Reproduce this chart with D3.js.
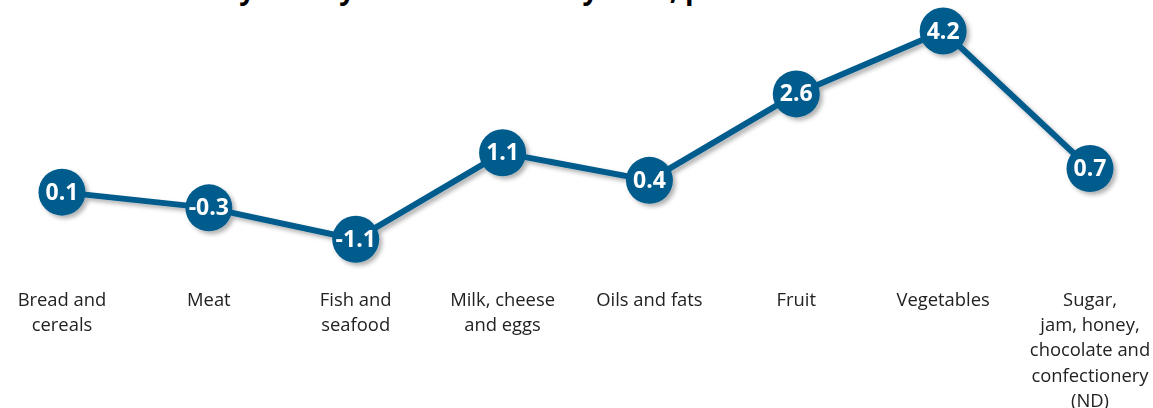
<!DOCTYPE html>
<html>
<head>
<meta charset="utf-8">
<script src="https://cdn.jsdelivr.net/npm/d3@7/dist/d3.min.js"></script>
<style>
  html, body { margin: 0; padding: 0; background: #fff; }
  svg { display: block; }
</style>
</head>
<body>
<svg id="chart" width="1153" height="408"></svg>
<script>
const title = "Monthly rise by food item in May 2024, per cent";
const categories = [
  "Bread and\ncereals",
  "Meat",
  "Fish and\nseafood",
  "Milk, cheese\nand eggs",
  "Oils and fats",
  "Fruit",
  "Vegetables",
  "Sugar,\njam, honey,\nchocolate and\nconfectionery\n(ND)"
];
const values = [0.1, -0.3, -1.1, 1.1, 0.4, 2.6, 4.2, 0.7];
const valueLabels = ["0.1", "-0.3", "-1.1", "1.1", "0.4", "2.6", "4.2", "0.7"];

const W = 1153, H = 408;
const color = "#005b8c";
const svg = d3.select("#chart");

const x = d3.scalePoint().domain(d3.range(categories.length)).range([62, 1090]);
const y = d3.scaleLinear().domain([-1.1, 4.2]).range([239.3, 31]);

const defs = svg.append("defs");
const f = defs.append("filter").attr("id", "shadow")
  .attr("x", "-30%").attr("y", "-30%").attr("width", "160%").attr("height", "160%");
f.append("feDropShadow").attr("dx", 3).attr("dy", 3).attr("stdDeviation", 2.2)
  .attr("flood-color", "#000").attr("flood-opacity", 0.3);

// title (cut off at top)
svg.append("text")
  .attr("x", 138).attr("y", -1)
  .attr("font-family", "'Open Sans', sans-serif")
  .attr("font-weight", 700)
  .attr("font-size", 28)
  .attr("fill", "#000")
  .text(title);

const g = svg.append("g").attr("filter", "url(#shadow)");

const line = d3.line().x((d, i) => x(i)).y(d => y(d));
g.append("path")
  .datum(values)
  .attr("d", line)
  .attr("fill", "none")
  .attr("stroke", color)
  .attr("stroke-width", 6)
  .attr("stroke-linejoin", "round");

const pts = g.selectAll("g.pt").data(values).join("g").attr("class", "pt")
  .attr("transform", (d, i) => `translate(${x(i)},${y(d)})`);
pts.append("circle").attr("r", 23.5).attr("fill", color);

const lbl = svg.append("g");
lbl.selectAll("text.v").data(values).join("text").attr("class", "v")
  .attr("x", (d, i) => x(i)).attr("y", d => y(d))
  .attr("dy", "0.33em")
  .attr("text-anchor", "middle")
  .attr("font-family", "'Open Sans', sans-serif")
  .attr("font-weight", 700)
  .attr("font-size", 23)
  .attr("fill", "#fff")
  .text((d, i) => valueLabels[i]);

// category labels
const cat = svg.append("g");
categories.forEach((c, i) => {
  const t = cat.append("text")
    .attr("x", x(i)).attr("y", 306)
    .attr("text-anchor", "middle")
    .attr("font-family", "'Open Sans', sans-serif")
    .attr("font-size", 18.4)
    .attr("fill", "#222");
  c.split("\n").forEach((ln, j) => {
    t.append("tspan").attr("x", x(i)).attr("dy", j === 0 ? 0 : 25.2).text(ln);
  });
});
</script>
</body>
</html>
